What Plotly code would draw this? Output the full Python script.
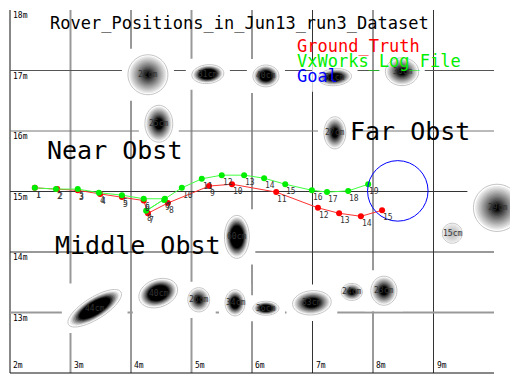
import numpy as np
import plotly.graph_objects as go

# ---------------- data ----------------
title_text = "Rover_Positions_in_Jun13_run3_Dataset"

gt_x = [2.41, 2.78, 3.12, 3.49, 3.85, 4.21, 4.28, 4.61, 5.29, 5.67, 6.40, 7.09, 7.44, 7.80, 8.15]
gt_y = [15.06, 15.04, 15.02, 14.96, 14.91, 14.85, 14.64, 14.81, 15.09, 15.12, 14.99, 14.73, 14.64, 14.59, 14.69]
gt_lbl = [str(i + 1) for i in range(len(gt_x))]

vx_x = [2.41, 2.76, 3.12, 3.47, 3.85, 4.21, 4.56, 4.25, 4.55, 4.84, 5.17, 5.50, 5.87, 6.20, 6.55, 6.99, 7.24, 7.59, 7.92]
vx_y = [15.06, 15.04, 15.04, 14.98, 14.94, 14.88, 14.88, 14.68, 14.86, 15.06, 15.21, 15.27, 15.27, 15.22, 15.12, 15.02, 14.99, 15.01, 15.12]
vx_lbl = [str(i + 1) for i in range(len(vx_x))]

goal_x, goal_y, goal_r = 8.41, 15.01, 0.50

# obstacles: centre, full width/height (m), rotation (deg), core darkness, floor grey, label
ob_x = [4.28, 5.27, 6.23, 4.46, 7.37, 8.48, 7.37, 10.05, 9.31, 5.75, 3.40, 4.45, 5.12, 5.72, 6.23, 6.99, 7.65, 8.18]
ob_y = [16.93, 16.94, 16.91, 16.12, 16.89, 16.98, 15.97, 14.73, 14.31, 14.25, 13.07, 13.32, 13.21, 13.16, 13.07, 13.16, 13.34, 13.36]
ob_w = [0.66, 0.53, 0.43, 0.46, 0.55, 0.55, 0.36, 0.78, 0.33, 0.41, 1.02, 0.66, 0.36, 0.33, 0.43, 0.64, 0.35, 0.43]
ob_h = [0.66, 0.31, 0.36, 0.61, 0.28, 0.46, 0.53, 0.78, 0.33, 0.71, 0.36, 0.46, 0.40, 0.43, 0.23, 0.40, 0.28, 0.48]
ob_ang = [0, 5, 0, 0, 5, 0, 0, 0, 0, 0, 32, 20, 0, 0, 0, 5, 0, 0]
ob_core = [0.10, 0.55, 0.50, 0.30, 0.45, 0.25, 0.30, 0.12, 0.0, 0.55, 0.60, 0.55, 0.25, 0.45, 0.50, 0.40, 0.30, 0.30]
ob_floor = [0, 0, 0, 0, 0, 0, 0, 0, 170, 0, 0, 0, 0, 0, 0, 0, 0, 0]
ob_lbl = ["22cm", "31cm", "40cm", "25cm", "31cm", "30cm", "27cm", "29cm", "15cm", "60cm",
          "44cm", "40cm", "26cm", "34cm", "36cm", "33cm", "24cm", "23cm"]

grid_vx = [2, 3, 4, 5, 6, 7, 8, 9]
grid_vc = ["#111", "#999", "#333", "#999", "#333", "#333", "#999", "#333"]
grid_hy = [12, 13, 14, 15, 16, 17]
grid_hc = ["#111", "#999", "#333", "#333", "#777", "#555"]
xtick_lbl = ["2m", "3m", "4m", "5m", "6m", "7m", "8m", "9m"]
ytick_vals = [13, 14, 15, 16, 17, 18]
ytick_lbl = ["13m", "14m", "15m", "16m", "17m", "18m"]

# ---------------- layout geometry ----------------
# page body has an 8px margin; figure occupies screen px 8..518 x 8..376
OFF = 8
W, H = 518 - OFF, 376 - OFF
PPM = 60.5
X0, X1 = 2 - (10 - OFF) / PPM, 2 + (518 - 10) / PPM
Y0, Y1 = 12 - (376 - 373) / PPM, 18 + (10 - OFF) / PPM
XMAX, YMAX = 10, 18

shapes = []
for v, c in zip(grid_vx, grid_vc):
    shapes.append(dict(type="line", x0=v, x1=v, y0=12, y1=YMAX, layer="below",
                       line=dict(color=c, width=2 if c == "#999" else 1)))
for v, c in zip(grid_hy, grid_hc):
    shapes.append(dict(type="line", x0=2, x1=XMAX, y0=v, y1=v, layer="below",
                       line=dict(color=c, width=2 if c == "#999" else 1)))


def ell_path(cx, cy, a, b, ang, n=48):
    t = np.linspace(0, 2 * np.pi, n, endpoint=False)
    ca, sa = np.cos(np.radians(ang)), np.sin(np.radians(ang))
    xs = cx + a * np.cos(t) * ca - b * np.sin(t) * sa
    ys = cy + a * np.cos(t) * sa + b * np.sin(t) * ca
    return "M " + " L ".join(f"{x:.4f},{y:.4f}" for x, y in zip(xs, ys)) + " Z"


# white halos that interrupt the grid
for cx, cy, w, h, ang in zip(ob_x, ob_y, ob_w, ob_h, ob_ang):
    a, b = w / 2, h / 2
    r = np.radians(ang)
    hx = np.sqrt((a * np.cos(r)) ** 2 + (b * np.sin(r)) ** 2) + 0.1
    hy = np.sqrt((a * np.sin(r)) ** 2 + (b * np.cos(r)) ** 2) + 0.1
    shapes.append(dict(type="rect", x0=cx - hx, x1=cx + hx, y0=cy - hy, y1=cy + hy,
                       fillcolor="white", line=dict(width=0), layer="below"))

# blobs with radial gradient
for cx, cy, w, h, ang, core, flo in zip(ob_x, ob_y, ob_w, ob_h, ob_ang, ob_core, ob_floor):
    a, b = w / 2, h / 2
    shapes.append(dict(type="path", path=ell_path(cx, cy, a, b, ang), fillcolor="white",
                       line=dict(color="#c4c4c4", width=1), layer="below"))
    for s in np.linspace(0.93, 0.06, 16):
        v = np.clip((s - core) / (0.93 - core), 0, 1) ** 0.85
        g = int(235 * v + flo * (1 - v))
        shapes.append(dict(type="path", path=ell_path(cx, cy, a * s, b * s, ang),
                           fillcolor=f"rgb({g},{g},{g})", line=dict(width=0), layer="below"))

# goal circle
shapes.append(dict(type="circle", x0=goal_x - goal_r, x1=goal_x + goal_r,
                   y0=goal_y - goal_r, y1=goal_y + goal_r,
                   line=dict(color="#0000ff", width=1), layer="above"))

fig = go.Figure()
fig.add_trace(go.Scatter(x=gt_x, y=gt_y, mode="lines+markers",
                         line=dict(color="#ff3030", width=1),
                         marker=dict(color="#ff0000", size=6)))
fig.add_trace(go.Scatter(x=vx_x, y=vx_y, mode="lines+markers",
                         line=dict(color="#40ff40", width=1),
                         marker=dict(color="#00ee00", size=6)))

ann = []
MONO = "DejaVu Sans Mono"
# point labels (close to lower-right of each point)
for xs, ys, ls in ((gt_x, gt_y, gt_lbl), (vx_x, vx_y, vx_lbl)):
    for x, y, lb in zip(xs, ys, ls):
        ann.append(dict(x=x, y=y, text=lb, showarrow=False, xanchor="left", yanchor="top",
                        xshift=-1, yshift=-1,
                        font=dict(family=MONO, size=8, color="#333")))
# blob labels
for cx, cy, lb in zip(ob_x, ob_y, ob_lbl):
    ann.append(dict(x=cx, y=cy, text=lb, showarrow=False, xanchor="center", yanchor="middle",
                    font=dict(family=MONO, size=8, color="#333")))
# tick labels
for v, lb in zip(grid_vx, xtick_lbl):
    ann.append(dict(x=v, y=12.02, text=lb, showarrow=False, xanchor="left", yanchor="bottom",
                    xshift=1, font=dict(family=MONO, size=8, color="#000")))
for v, lb in zip(ytick_vals, ytick_lbl):
    ann.append(dict(x=2, y=v, text=lb, showarrow=False, xanchor="left", yanchor="top",
                    xshift=1, yshift=1, font=dict(family=MONO, size=8, color="#000")))


def ptext(px, py, text, size, color="#000"):
    ann.append(dict(x=(px - OFF) / W, y=1 - (py - OFF) / H, xref="paper", yref="paper",
                    text=text, showarrow=False, xanchor="left", yanchor="middle",
                    font=dict(family=MONO, size=size, color=color)))


ptext(48, 23, title_text, 17)
ptext(295, 46, "Ground_Truth", 17, "#ff0000")
ptext(295, 61, "VxWorks_Log_File", 17, "#00ee00")
ptext(295, 76, "Goal", 17, "#0000ff")
ptext(45, 150, "Near Obst", 25)
ptext(53, 245, "Middle Obst", 25)
ptext(348, 132, "Far Obst", 25)

fig.update_layout(
    width=W, height=H, margin=dict(l=0, r=0, t=0, b=0),
    paper_bgcolor="white", plot_bgcolor="white", showlegend=False,
    xaxis=dict(range=[X0, X1], visible=False, fixedrange=True),
    yaxis=dict(range=[Y0, Y1], visible=False, fixedrange=True),
    shapes=shapes, annotations=ann,
)
fig.write_html("out.html")
